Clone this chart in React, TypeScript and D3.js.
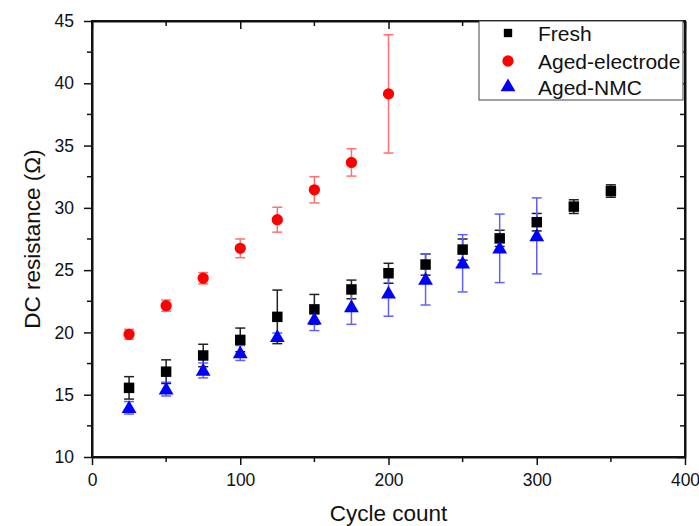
import React, { useRef, useEffect } from "react";
import * as d3 from "d3";

// cycle counts for each series
const freshCycles = [25, 50, 75, 100, 125, 150, 175, 200, 225, 250, 275, 300, 325, 350];
const freshMean = [15.55, 16.85, 18.15, 19.4, 21.25, 21.85, 23.45, 24.75, 25.45, 26.65, 27.55, 28.85, 30.1, 31.35];
const freshErr = [0.9, 0.95, 0.9, 0.95, 2.15, 1.2, 0.75, 0.8, 0.85, 0.85, 0.65, 0.7, 0.55, 0.5];

const electrodeCycles = [25, 50, 75, 100, 125, 150, 175, 200];
const electrodeMean = [19.85, 22.15, 24.35, 26.75, 29.05, 31.45, 33.65, 39.15];
const electrodeErr = [0.4, 0.45, 0.45, 0.75, 1.0, 1.05, 1.1, 4.75];

const nmcCycles = [25, 50, 75, 100, 125, 150, 175, 200, 225, 250, 275, 300];
const nmcMean = [13.95, 15.45, 16.95, 18.35, 19.65, 21.05, 22.05, 23.15, 24.25, 25.55, 26.75, 27.75];
const nmcErr = [0.5, 0.55, 0.6, 0.6, 0.3, 0.9, 1.4, 1.85, 2.05, 2.3, 2.75, 3.05];

const xTicks = [0, 100, 200, 300, 400];
const yTicks = [10, 15, 20, 25, 30, 35, 40, 45];
const legendLabels = ["Fresh", "Aged-electrode", "Aged-NMC"];

const App = () => {
    const svgRef = useRef(null);

    const width = 699;
    const height = 526;
    const left = 92, right = 685, top = 21, bottom = 457;

    useEffect(() => {
        const svg = d3.select(svgRef.current);
        svg.selectAll("*").remove();

        const x = d3.scaleLinear().domain([0, 400]).range([left, right]);
        const y = d3.scaleLinear().domain([10, 45]).range([bottom, top]);

        const font = "'Liberation Sans', Arial, sans-serif";

        // axes
        const xMinor = d3.range(0, 401, 50);
        const yMinor = d3.range(10, 45.1, 2.5);

        const bottomAxis = d3.axisBottom(x).tickValues(xTicks).tickSize(8).tickSizeOuter(0);
        const gx = svg.append("g").attr("transform", `translate(0, ${bottom})`).call(bottomAxis);
        gx.selectAll("text").attr("font-size", 17.5).attr("font-family", font).attr("fill", "#111").attr("dy", "1.05em");

        const leftAxis = d3.axisLeft(y).tickValues(yTicks).tickSize(8).tickSizeOuter(0);
        const gy = svg.append("g").attr("transform", `translate(${left}, 0)`).call(leftAxis);
        gy.selectAll("text").attr("font-size", 17.5).attr("font-family", font).attr("fill", "#111").attr("dx", -7);

        svg.append("g").attr("transform", `translate(0, ${top})`)
            .call(d3.axisTop(x).tickValues(xTicks).tickSize(-8).tickSizeOuter(0).tickFormat(() => ""));
        svg.append("g").attr("transform", `translate(${right}, 0)`)
            .call(d3.axisRight(y).tickValues(yTicks).tickSize(-8).tickSizeOuter(0).tickFormat(() => ""));

        // minor ticks
        const minor = svg.append("g").attr("stroke", "#111").attr("stroke-width", 1.5);
        xMinor.filter(v => v % 100 !== 0).forEach(v => {
            minor.append("line").attr("x1", x(v)).attr("x2", x(v)).attr("y1", bottom).attr("y2", bottom + 5);
            minor.append("line").attr("x1", x(v)).attr("x2", x(v)).attr("y1", top).attr("y2", top + 5);
        });
        yMinor.filter(v => v % 5 !== 0).forEach(v => {
            minor.append("line").attr("x1", left).attr("x2", left - 5).attr("y1", y(v)).attr("y2", y(v));
            minor.append("line").attr("x1", right).attr("x2", right - 5).attr("y1", y(v)).attr("y2", y(v));
        });

        svg.selectAll(".domain").attr("stroke", "#111").attr("stroke-width", 2);
        svg.selectAll(".tick line").attr("stroke", "#111").attr("stroke-width", 1.5);

        // frame
        svg.append("rect")
            .attr("x", left).attr("y", top)
            .attr("width", right - left).attr("height", bottom - top)
            .attr("fill", "none").attr("stroke", "#111").attr("stroke-width", 2);

        // axis titles
        svg.append("text")
            .attr("x", (left + right) / 2).attr("y", 521)
            .attr("text-anchor", "middle")
            .attr("font-family", font).attr("font-size", 22.5).attr("fill", "#111")
            .text("Cycle count");
        svg.append("text")
            .attr("transform", `translate(40, ${(top + bottom) / 2}) rotate(-90)`)
            .attr("text-anchor", "middle")
            .attr("font-family", font).attr("font-size", 22.5).attr("fill", "#111")
            .text("DC resistance (Ω)");

        const series = [
            { cycles: freshCycles, mean: freshMean, err: freshErr, color: "#000", bar: "#222", shape: d3.symbolSquare, size: 110 },
            { cycles: electrodeCycles, mean: electrodeMean, err: electrodeErr, color: "#ff0000", bar: "#ff7070", shape: d3.symbolCircle, size: 100 },
            { cycles: nmcCycles, mean: nmcMean, err: nmcErr, color: "#0000ff", bar: "#6060ff", shape: d3.symbolTriangle, size: 95 },
        ];

        // error bars
        series.forEach(s => {
            const g = svg.append("g").attr("stroke", s.bar).attr("stroke-width", 1.5).attr("fill", "none");
            s.cycles.forEach((c, i) => {
                const cx = x(c);
                const y1 = y(s.mean[i] + s.err[i]);
                const y0 = y(s.mean[i] - s.err[i]);
                g.append("line").attr("x1", cx).attr("x2", cx).attr("y1", y1).attr("y2", y0);
                g.append("line").attr("x1", cx - 5).attr("x2", cx + 5).attr("y1", y1).attr("y2", y1);
                g.append("line").attr("x1", cx - 5).attr("x2", cx + 5).attr("y1", y0).attr("y2", y0);
            });
        });

        // markers
        series.forEach(s => {
            const sym = d3.symbol().type(s.shape).size(s.size);
            svg.append("g").selectAll("path")
                .data(s.cycles)
                .enter()
                .append("path")
                .attr("transform", (c, i) => `translate(${x(c)}, ${y(s.mean[i]) + (s.shape === d3.symbolTriangle ? 1 : 0)})`)
                .attr("d", sym)
                .attr("fill", s.color);
        });

        // legend
        const lg = svg.append("g");
        lg.append("rect")
            .attr("x", 479).attr("y", top).attr("width", 204).attr("height", 79)
            .attr("fill", "#fff").attr("stroke", "#444").attr("stroke-width", 1);
        const rows = [33, 61, 87];
        series.forEach((s, i) => {
            const sym = d3.symbol().type(s.shape).size(s.shape === d3.symbolSquare ? 70 : s.size);
            lg.append("path")
                .attr("transform", `translate(508, ${rows[i]})`)
                .attr("d", sym)
                .attr("fill", s.color);
            lg.append("text")
                .attr("x", 538).attr("y", rows[i] + 7.5)
                .attr("font-family", font).attr("font-size", 21).attr("fill", "#111")
                .text(legendLabels[i]);
        });
    }, []);

    return (
        <svg ref={svgRef} width={width} height={height}
            style={{ position: "absolute", left: 0, top: 0, background: "#fff" }}></svg>
    );
};

export default App;
